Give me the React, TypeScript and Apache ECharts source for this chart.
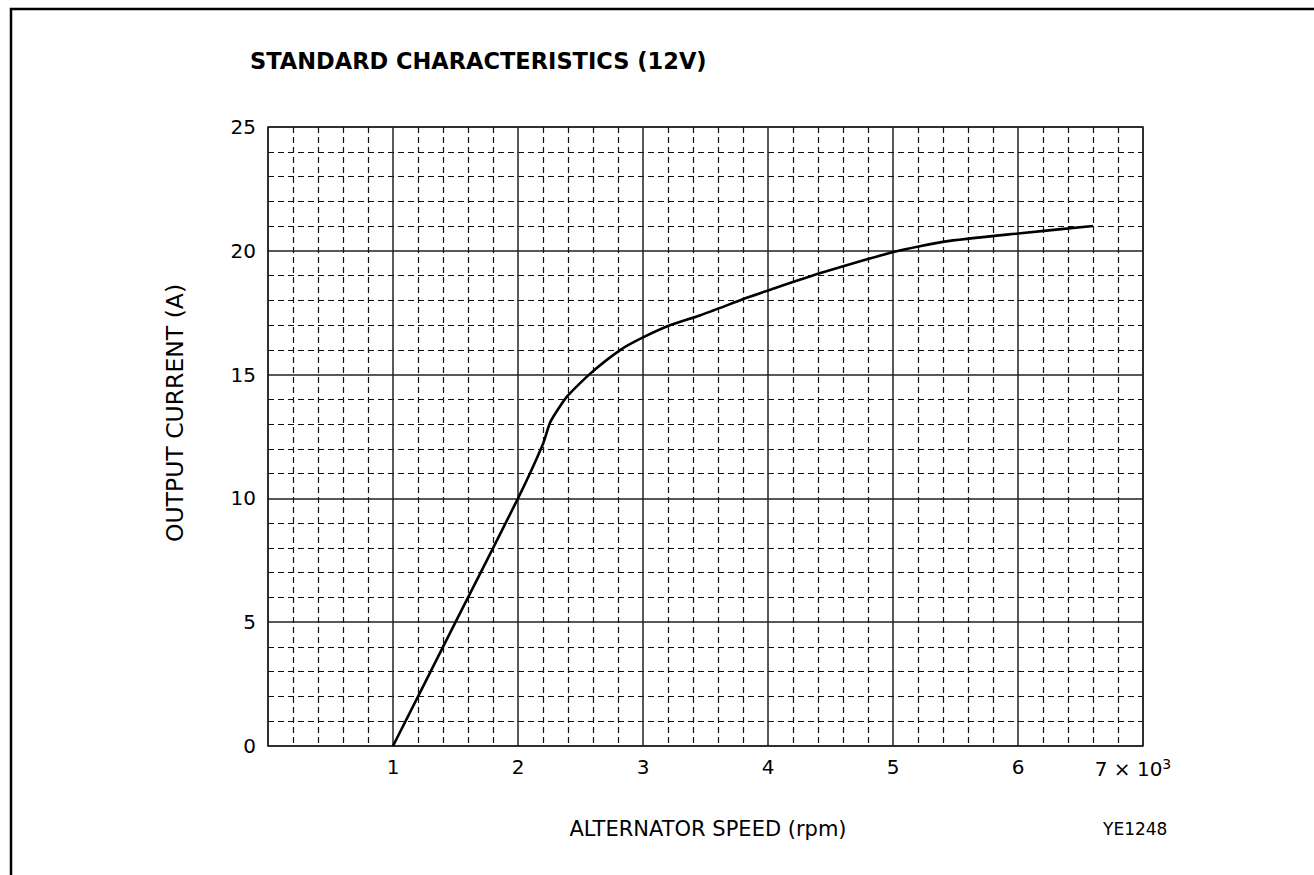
import React, { useEffect, useRef } from "react";
import * as echarts from "echarts";

// Alternator speed (x 10^3 rpm) and output current (A)
const speedK = [1.0, 1.5, 2.0, 2.2, 2.26, 2.39, 2.58, 2.82, 3.0, 3.22, 3.46, 3.83, 4.03, 4.42, 5.02, 5.41, 6.0, 6.6];
const currentA = [0, 5, 10, 12.2, 13.1, 14.1, 15.05, 16.0, 16.5, 17.0, 17.4, 18.1, 18.45, 19.1, 19.97, 20.37, 20.7, 21.0];

const xTickLabels = ["", "1", "2", "3", "4", "5", "6", "7 × 10"];
const xExponent = "3";
const yTickLabels = ["0", "5", "10", "15", "20", "25"];

const titleText = "STANDARD CHARACTERISTICS (12V)";
const xName = "ALTERNATOR SPEED (rpm)";
const yName = "OUTPUT CURRENT (A)";
const codeText = "YE1248";

const FONT = "DejaVu Sans";

export default function App() {
  const ref = useRef<HTMLDivElement>(null);

  useEffect(() => {
    if (!ref.current) return;
    const chart = echarts.init(ref.current, null, { renderer: "svg" });
    const data = speedK.map((x, i) => [x, currentA[i]]);
    const dashed = { color: "#111", width: 1.2, type: [6, 4] as any };
    const solid = { color: "#222", width: 1.5, type: "solid" as const };

    chart.setOption({
      animation: false,
      backgroundColor: "#fff",
      textStyle: { fontFamily: FONT, color: "#000" },
      grid: {
        left: 268,
        top: 127,
        right: 171,
        bottom: 129,
        show: true,
        borderColor: "#222",
        borderWidth: 1.5,
        backgroundColor: "transparent",
      },
      xAxis: {
        type: "value",
        min: 0,
        max: 7,
        interval: 1,
        axisLine: { show: false },
        axisTick: { show: false },
        splitLine: { show: true, lineStyle: solid },
        minorTick: { show: false, splitNumber: 5 },
        minorSplitLine: { show: true, lineStyle: dashed },
        axisLabel: {
          margin: 11,
          fontSize: 20,
          fontFamily: FONT,
          color: "#000",
          formatter: (v: number) => {
            const idx = Math.round(v);
            if (idx === xTickLabels.length - 1) {
              return `{b|${xTickLabels[idx]}}{sup|${xExponent}}`;
            }
            return `{b|${xTickLabels[idx] ?? ""}}`;
          },
          rich: {
            b: { fontSize: 20, fontFamily: FONT, color: "#000" },
            sup: { fontSize: 14, fontFamily: FONT, color: "#000", verticalAlign: "top", padding: [0, 20, 10, 0] },
          },
        },
      },
      yAxis: {
        type: "value",
        min: 0,
        max: 25,
        interval: 5,
        axisLine: { show: false },
        axisTick: { show: false },
        splitLine: { show: true, lineStyle: solid },
        minorTick: { show: false, splitNumber: 5 },
        minorSplitLine: { show: true, lineStyle: dashed },
        axisLabel: {
          margin: 12,
          fontSize: 20,
          fontFamily: FONT,
          color: "#000",
          formatter: (v: number) => yTickLabels[Math.round(v / 5)] ?? "",
        },
      },
      series: [
        {
          type: "line",
          data,
          showSymbol: false,
          symbol: "none",
          smooth: 0.2,
          lineStyle: { color: "#000", width: 2.6 },
          z: 5,
        },
      ],
      graphic: [
        {
          type: "rect",
          shape: { x: 11, y: 9, width: 1400, height: 1000 },
          style: { fill: "none", stroke: "#000", lineWidth: 2.5 },
          silent: true,
        },
        {
          type: "text",
          left: 250,
          top: 49,
          style: { text: titleText, font: `bold 22.5px "${FONT}"`, fill: "#000" },
        },
        {
          type: "text",
          x: 708,
          y: 829,
          style: {
            text: xName,
            font: `21px "${FONT}"`,
            fill: "#000",
            textAlign: "center",
            textVerticalAlign: "middle",
          },
        },
        {
          type: "text",
          x: 175,
          y: 413,
          rotation: Math.PI / 2,
          style: {
            text: yName,
            font: `23.5px "${FONT}"`,
            fill: "#000",
            textAlign: "center",
            textVerticalAlign: "middle",
          },
        },
        {
          type: "text",
          x: 1103,
          y: 829,
          style: {
            text: codeText,
            font: `17px "${FONT}"`,
            fill: "#000",
            textAlign: "left",
            textVerticalAlign: "middle",
          },
        },
      ],
    });

    return () => chart.dispose();
  }, []);

  return (
    <div
      ref={ref}
      style={{ position: "absolute", left: 0, top: 0, width: 1314, height: 875 }}
    />
  );
}
